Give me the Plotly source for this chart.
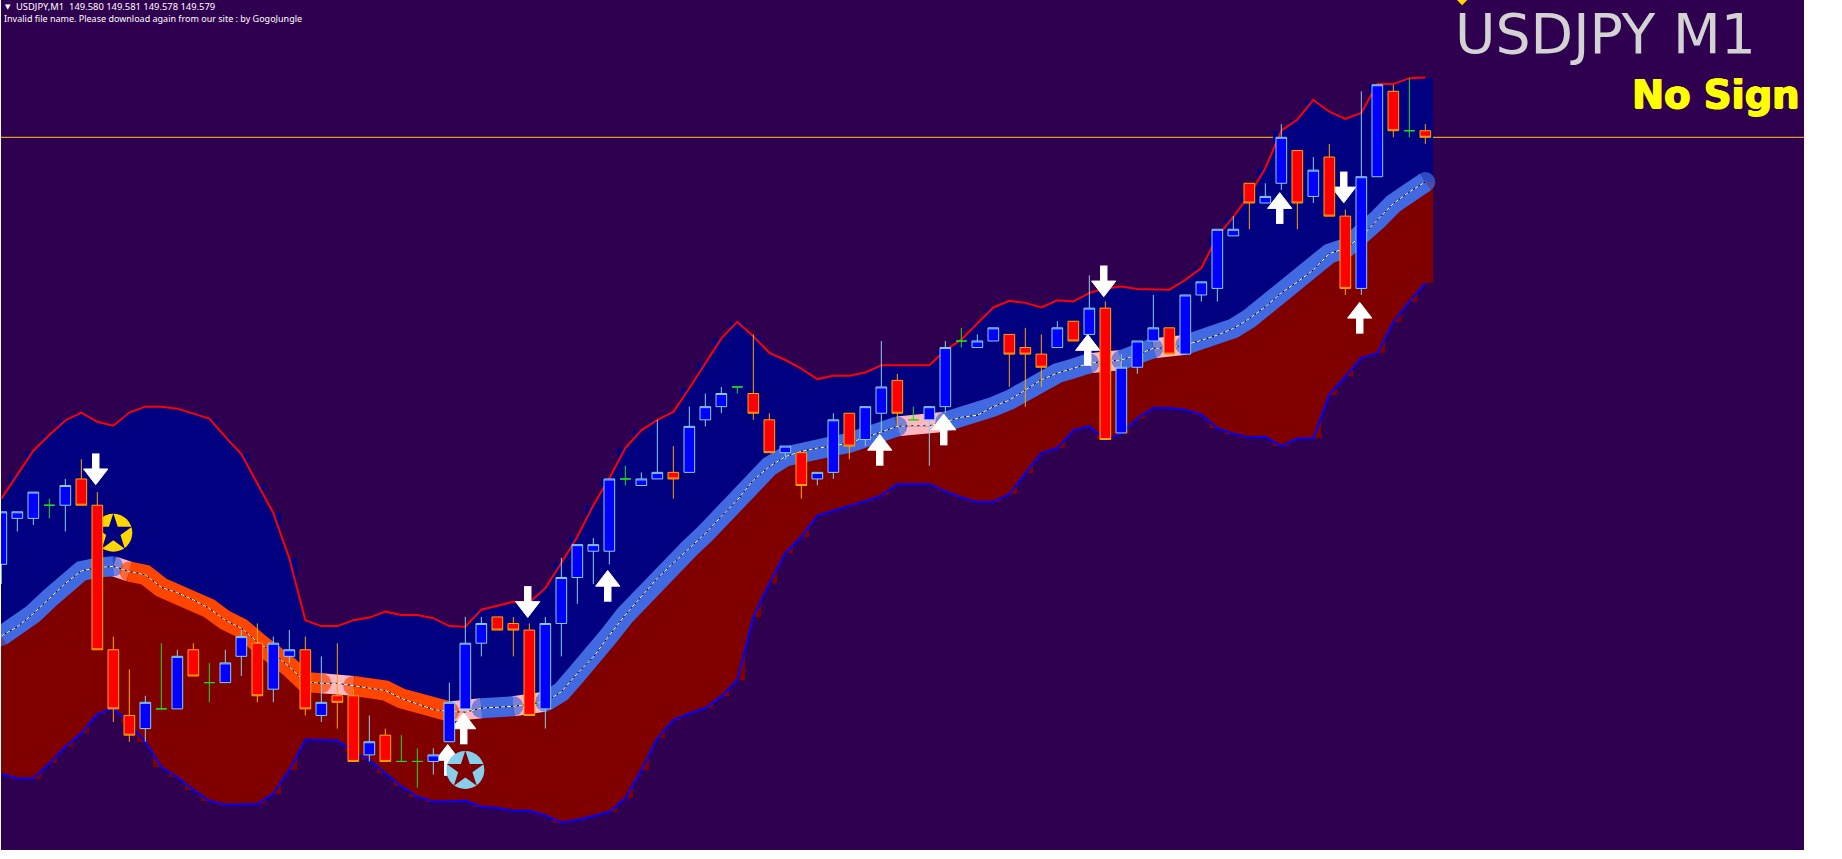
import numpy as np
import plotly.graph_objects as go

# --- data: prices, in points (0.001) relative to the last close ---
LAST_CLOSE = 149.579
POINT = 0.001

opens = [-65,-58,-58,-56,-56,-52,-56,-78,-88,-90,-87,-87,-78,-83,-83,-79,-77,-84,-79,-78,-88,-85,-85,-94,-91,-95,-95,-95,-92,-87,
         -77,-73,-74,-75,-87,-74,-67,-63,-63,-52,-53,-52,-51,-51,-43,-41,-38,-39,-43,-48,-48,-52,-51,-42,-46,-42,-37,-43,-43,-41,
         -31,-32,-31,-30,-32,-33,-32,-28,-30,-26,-45,-35,-31,-29,-33,-24,-23,-15,-7,-10,-7,-2,-9,-3,-12,-23,-6,7,1,1]
highs = [-57,-57,-54,-55,-52,-49,-54,-76,-81,-85,-77,-78,-77,-80,-78,-75,-74,-76,-75,-76,-79,-77,-84,-88,-90,-91,-93,-93,-83,-73,
         -73,-73,-73,-74,-73,-64,-62,-61,-52,-50,-51,-43,-47,-41,-39,-38,-38,-30,-42,-47,-48,-51,-42,-42,-41,-31,-36,-41,-41,-31,
         -29,-30,-29,-30,-29,-30,-28,-28,-21,-25,-33,-31,-24,-29,-24,-22,-14,-12,-7,-7,2,-2,-3,-1,-11,7,8,8,9,2]
lows = [-68,-60,-59,-58,-60,-56,-78,-89,-92,-92,-87,-87,-82,-86,-83,-82,-86,-86,-80,-88,-89,-90,-95,-95,-95,-95,-99,-97,-92,-87,
        -79,-75,-79,-88,-90,-79,-71,-68,-65,-53,-53,-52,-55,-51,-44,-42,-39,-43,-48,-49,-55,-53,-52,-49,-47,-45,-44,-43,-50,-42,
        -32,-32,-31,-38,-41,-38,-32,-31,-30,-46,-45,-36,-31,-33,-33,-25,-25,-15,-14,-10,-8,-14,-10,-12,-24,-24,-6,0,0,-1]
closes = [-57,-57,-54,-56,-53,-56,-78,-87,-91,-86,-87,-79,-82,-83,-80,-76,-85,-77,-78,-87,-86,-86,-95,-92,-95,-95,-95,-94,-86,-77,
          -74,-75,-75,-88,-74,-67,-62,-62,-52,-52,-52,-51,-52,-44,-41,-39,-38,-42,-48,-47,-53,-51,-43,-47,-41,-38,-42,-43,-41,-32,
          -31,-31,-29,-33,-33,-35,-29,-31,-26,-46,-35,-31,-29,-33,-24,-22,-14,-14,-10,-9,0,-10,-5,-12,-23,-6,8,1,1,0]

band_upper = [-55.0,-51.4,-47.7,-45.3,-43.1,-41.9,-43.3,-43.9,-41.9,-41.0,-41.0,-41.3,-42.0,-42.8,-45.6,-48.2,-52.7,-57.2,-64.1,-73.5,
              -74.4,-74.4,-73.5,-73.1,-72.2,-72.7,-72.7,-73.2,-74.4,-74.5,-71.9,-71.3,-70.7,-70.8,-68.6,-64.8,-60.8,-56.0,-51.9,-47.3,
              -44.6,-43.0,-41.8,-38.2,-34.4,-30.6,-28.1,-30.3,-32.8,-33.9,-35.2,-36.8,-36.3,-36.3,-35.8,-34.7,-34.7,-34.7,-34.7,-32.4,
              -30.8,-28.3,-25.9,-24.9,-25.2,-25.9,-24.8,-25.0,-23.7,-23.0,-22.7,-23.1,-23.2,-23.2,-21.7,-19.9,-15.1,-12.1,-8.8,-4.7,
              1.0,2.7,5.7,3.9,2.8,3.7,8.1,8.1,9.0,9.1]
band_middle = [-75.9,-74.5,-72.5,-70.2,-67.9,-66.0,-65.5,-65.3,-66.1,-66.6,-68.5,-69.3,-70.4,-71.7,-73.5,-74.7,-76.8,-78.5,-80.6,-82.9,
               -83.1,-83.1,-83.5,-83.9,-84.2,-85.4,-86.3,-87.1,-87.4,-87.5,-86.9,-86.8,-86.6,-86.3,-85.9,-84.4,-81.6,-79.1,-75.8,-72.7,
               -69.9,-67.1,-64.8,-62.6,-60.3,-57.7,-55.2,-52.2,-50.1,-48.6,-47.8,-47.3,-47.0,-46.5,-45.7,-44.8,-44.0,-43.9,-43.9,-43.3,
               -42.6,-42.3,-41.0,-40.0,-38.5,-36.9,-35.9,-35.2,-34.4,-34.1,-33.9,-33.1,-32.1,-32.1,-31.6,-30.9,-30.1,-29.1,-27.6,-25.8,
               -23.7,-22.0,-20.2,-17.7,-16.9,-15.1,-12.6,-10.1,-8.3,-6.8]
band_lower = [-96.9,-97.6,-97.6,-95.3,-92.8,-90.7,-87.8,-86.9,-89.2,-92.0,-95.9,-97.4,-99.3,-101.0,-101.6,-101.6,-101.5,-99.9,-96.3,-91.7,
              -91.8,-91.8,-93.5,-94.8,-96.8,-98.8,-100.4,-101.1,-101.1,-101.0,-101.9,-102.1,-102.5,-102.5,-103.2,-104.3,-103.9,-103.3,-102.7,-100.6,
              -96.3,-91.5,-88.7,-87.7,-86.9,-85.1,-82.6,-73.0,-67.9,-63.3,-60.8,-57.6,-56.8,-56.1,-55.4,-54.5,-52.8,-52.8,-52.8,-53.9,
              -54.8,-55.5,-55.5,-54.3,-51.1,-48.1,-47.3,-44.6,-44.0,-46.1,-45.1,-42.8,-41.2,-41.2,-41.5,-42.2,-44.3,-45.1,-45.7,-45.6,
              -47.0,-45.9,-45.8,-39.2,-36.4,-33.6,-32.9,-28.1,-25.0,-22.2]

trend_up_runs = [(0,7),(30,32),(34,56),(59,68),(70,72),(74,89)]
trend_down_runs = [(8,20),(22,28)]
trend_flip_runs = [(7,8),(20,22),(28,30),(32,34),(56,59),(68,70),(72,74)]

arrow_up_bars = [28,29,38,55,59,68,80,85]
arrow_up_pts = [-94.6,-89.8,-68.1,-47.4,-44.3,-32.2,-10.6,-27.3]
arrow_down_bars = [6,33,69,84]
arrow_down_pts = [-50.7,-70.9,-22.1,-7.8]

star_sell = (7, -60.2)
star_buy = (29, -96.3)
top_marker = (91.3, 20.9)

header_line = "USDJPY,M1  149.580 149.581 149.578 149.579"
notice_line = "Invalid file name. Please download again from our site : by GogoJungle"
symbol_title = "USDJPY M1"
signal_text = "No Sign"

# --- colours ---
BG = "#2F004F"; NAVY = "#000080"; MAROON = "#800000"
UP_BODY = "#0000FF"; UP_EDGE = "#87CEEB"; DN_BODY = "#FF0000"; DN_EDGE = "#FFA500"; DOJI = "#1EDC1E"
PX_PER_POINT = 6.57

def price(p):
    return LAST_CLOSE + np.asarray(p, dtype=float) * POINT

o, h, l, c = map(np.array, (opens, highs, lows, closes))
bars = np.arange(len(o))
up, mid, dn = price(band_upper), price(band_middle), price(band_lower)

fig = go.Figure()

# histogram columns + polygon of the two channel halves
fig.add_bar(x=bars, base=mid, y=up - mid, width=1, marker=dict(color=NAVY, line_width=0), hoverinfo="skip")
fig.add_bar(x=bars, base=dn, y=mid - dn, width=1, marker=dict(color=MAROON, line_width=0), hoverinfo="skip")
for a, b, col in ((up, mid, NAVY), (mid, dn, MAROON)):
    fig.add_scatter(x=np.r_[bars, bars[::-1]], y=np.r_[a, b[::-1]], fill="toself", fillcolor=col,
                    mode="none", hoverinfo="skip")
fig.add_scatter(x=bars, y=up, mode="lines", line=dict(color="#FF0000", width=2), hoverinfo="skip")
fig.add_scatter(x=bars, y=dn, mode="lines", line=dict(color="#0000FF", width=2), hoverinfo="skip")

# trend ribbon
for s, e in trend_flip_runs:
    fig.add_scatter(x=bars[s:e+1], y=mid[s:e+1], mode="lines", line=dict(color="#FFB6C1", width=20), hoverinfo="skip")
for runs, col in ((trend_up_runs, "#4169E1"), (trend_down_runs, "#FF4500")):
    for s, e in runs:
        n = e - s + 1
        sizes = [20 if k in (0, n - 1) else 0 for k in range(n)]
        fig.add_scatter(x=bars[s:e+1], y=mid[s:e+1], mode="lines+markers", line=dict(color=col, width=20),
                        marker=dict(color=col, size=sizes, line_width=0), hoverinfo="skip")
fig.add_scatter(x=bars, y=mid, mode="lines", line=dict(color="#000000", width=1), hoverinfo="skip")
fig.add_scatter(x=bars, y=mid, mode="lines", line=dict(color="#FFFFFF", width=1, dash="4px,2px"), hoverinfo="skip")

# arrows: a triangular head and a thick shaft, built from two markers
def add_arrows(bar_list, pts, sym, sign):
    xs = np.array(bar_list) - 0.1
    ys = np.array(pts, dtype=float)
    fig.add_scatter(x=xs, y=price(ys + sign * 3.8 / PX_PER_POINT), mode="markers",
                    marker=dict(symbol=sym, size=21, color="#FFFFFF", line=dict(color="#FFFFFF", width=1)), hoverinfo="skip")
    fig.add_scatter(x=xs, y=price(ys - sign * 6.5 / PX_PER_POINT), mode="markers",
                    marker=dict(symbol="line-ns", size=15, line=dict(color="#FFFFFF", width=7.5)), hoverinfo="skip")
add_arrows(arrow_up_bars, arrow_up_pts, "triangle-up", 1)
add_arrows(arrow_down_bars, arrow_down_pts, "triangle-down", -1)

# star badges
for (sx, sy), ring, star in ((star_sell, "#FFD700", NAVY), (star_buy, "#87CEEB", MAROON)):
    fig.add_scatter(x=[sx], y=price([sy]), mode="markers", marker=dict(symbol="circle", size=38, color=ring, line_width=0), hoverinfo="skip")
    fig.add_scatter(x=[sx], y=price([sy]), mode="markers", marker=dict(symbol="star", size=28, color=star, line_width=0), hoverinfo="skip")
fig.add_scatter(x=[top_marker[0]], y=price([top_marker[1]]), mode="markers",
                marker=dict(symbol="diamond", size=8, color="#FFD700", line_width=0), hoverinfo="skip")

# candles (overlay axis so they sit on top of every indicator)
is_doji = o == c
is_up = (c > o)
is_dn = (c < o)
for mask, body, edge in ((is_up, UP_BODY, UP_EDGE), (is_dn, DN_BODY, DN_EDGE), (is_doji, DOJI, DOJI)):
    style = dict(fillcolor=body, line=dict(color=edge, width=1))
    fig.add_candlestick(x=bars[mask], open=price(o[mask]), high=price(h[mask]), low=price(l[mask]), close=price(c[mask]),
                        increasing=style, decreasing=style, whiskerwidth=0, yaxis="y2", hoverinfo="skip")

W, H = 1842, 859
L, R, T, B = 1, 38, 0, 9
PW, PH = W - L - R, H - T - B
bar_px, bar0_px = 16.0, 1.33
x_rng = [(L - bar0_px) / bar_px, (W - R - bar0_px) / bar_px]
y_rng = [price((137.3 - PH) / PX_PER_POINT), price(137.3 / PX_PER_POINT)]

fig.update_layout(
    width=W, height=H, autosize=False, margin=dict(l=L, r=R, t=T, b=B),
    paper_bgcolor="#FFFFFF", plot_bgcolor=BG, showlegend=False, barmode="overlay", bargap=0,
    boxgap=1/3, boxgroupgap=0,
    xaxis=dict(range=x_rng, visible=False, rangeslider_visible=False, fixedrange=True),
    yaxis=dict(range=y_rng, visible=False, fixedrange=True),
    yaxis2=dict(range=y_rng, visible=False, overlaying="y", fixedrange=True),
    shapes=[dict(type="line", xref="paper", x0=0, x1=1, yref="y", y0=LAST_CLOSE, y1=LAST_CLOSE,
                 line=dict(color="#FFC81E", width=1), layer="below")],
)

def label(text, px, py, size, color, family, anchor="left", bold=False, shadow=None):
    font = dict(size=size, color=color, family=family)
    if shadow:
        font["shadow"] = shadow
    fig.add_annotation(text=f"<b>{text}</b>" if bold else text, xref="paper", yref="paper",
                       x=(px - L) / PW, y=1 - (py - T) / PH, xanchor=anchor, yanchor="middle", showarrow=False,
                       font=font, borderpad=0, borderwidth=0)

label("▼", 8, 6.5, 7, "#FFFFFF", "DejaVu Sans", "center")
label(header_line, 16, 6.5, 9.4, "#FFFFFF", "Noto Sans")
label(notice_line, 4, 19, 9, "#FFFFFF", "Noto Sans")
label(symbol_title, 1455, 34, 55.3, "#D3D3D3", "DejaVu Sans")
label(signal_text, 1800, 94, 38.4, "#FFFF00", "DejaVu Sans", "right", bold=True,
      shadow="0.8px 0 0 #FFFF00, -0.8px 0 0 #FFFF00, 0 0.5px 0 #FFFF00, 0 -0.5px 0 #FFFF00")

fig.write_html("out.html", config={"displayModeBar": False},
               post_script="document.body.style.margin='0';document.body.style.overflow='hidden';")
